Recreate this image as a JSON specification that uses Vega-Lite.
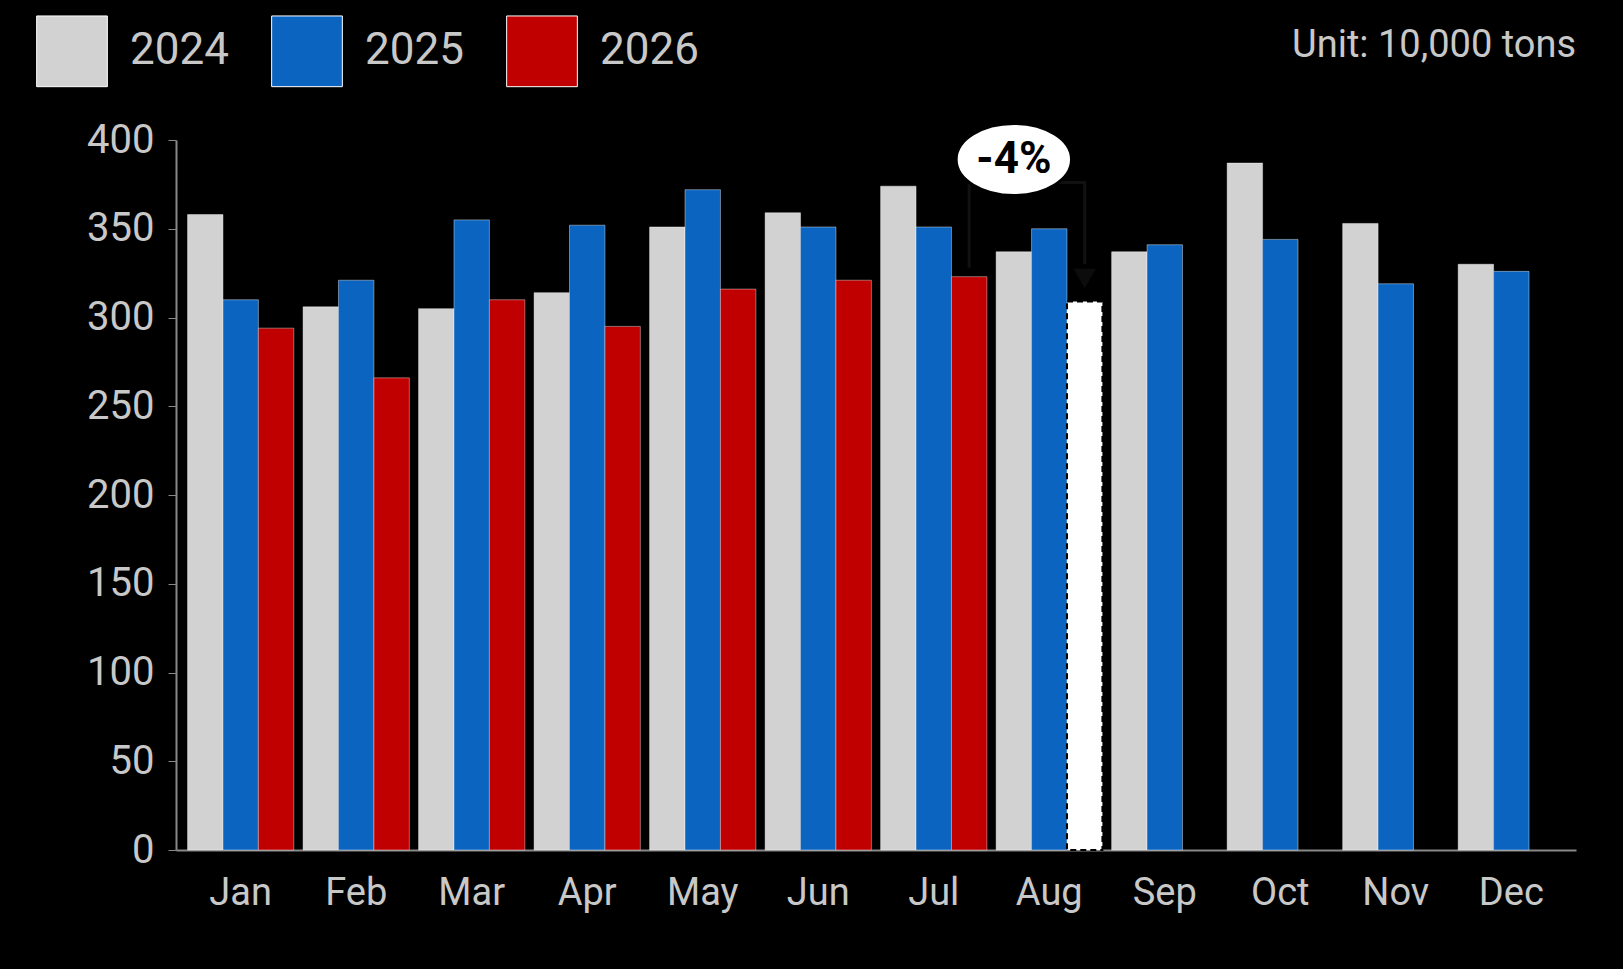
{
  "$schema": "https://vega.github.io/schema/vega-lite/v6.json",
  "autosize": "none",
  "width": 1400,
  "height": 710,
  "padding": {"left": 176, "top": 140, "right": 47, "bottom": 119},
  "background": "#000000",
  "title": {
    "text": "Unit: 10,000 tons",
    "anchor": "end",
    "orient": "top",
    "color": "#c8c8c8",
    "fontSize": 38,
    "font": "Roboto",
    "fontWeight": "normal",
    "offset": -50
  },
  "datasets": {
    "bars": [
      {"month": "Jan", "year": "2024", "value": 358}, {"month": "Jan", "year": "2025", "value": 310}, {"month": "Jan", "year": "2026", "value": 294},
      {"month": "Feb", "year": "2024", "value": 306}, {"month": "Feb", "year": "2025", "value": 321}, {"month": "Feb", "year": "2026", "value": 266},
      {"month": "Mar", "year": "2024", "value": 305}, {"month": "Mar", "year": "2025", "value": 355}, {"month": "Mar", "year": "2026", "value": 310},
      {"month": "Apr", "year": "2024", "value": 314}, {"month": "Apr", "year": "2025", "value": 352}, {"month": "Apr", "year": "2026", "value": 295},
      {"month": "May", "year": "2024", "value": 351}, {"month": "May", "year": "2025", "value": 372}, {"month": "May", "year": "2026", "value": 316},
      {"month": "Jun", "year": "2024", "value": 359}, {"month": "Jun", "year": "2025", "value": 351}, {"month": "Jun", "year": "2026", "value": 321},
      {"month": "Jul", "year": "2024", "value": 374}, {"month": "Jul", "year": "2025", "value": 351}, {"month": "Jul", "year": "2026", "value": 323},
      {"month": "Aug", "year": "2024", "value": 337}, {"month": "Aug", "year": "2025", "value": 350},
      {"month": "Sep", "year": "2024", "value": 337}, {"month": "Sep", "year": "2025", "value": 341},
      {"month": "Oct", "year": "2024", "value": 387}, {"month": "Oct", "year": "2025", "value": 344},
      {"month": "Nov", "year": "2024", "value": 353}, {"month": "Nov", "year": "2025", "value": 319},
      {"month": "Dec", "year": "2024", "value": 330}, {"month": "Dec", "year": "2025", "value": 326}
    ],
    "forecast": [{"month": "Aug", "year": "2026", "value": 309}],
    "bracket": [
      {"month": "Jul", "year": "2026", "value": 328, "order": 1},
      {"month": "Jul", "year": "2026", "value": 376, "order": 2},
      {"month": "Aug", "year": "2026", "value": 376, "order": 3},
      {"month": "Aug", "year": "2026", "value": 330, "order": 4}
    ],
    "label": [{"month": "Aug", "year": "2024", "value": 389, "text": "-4%"}],
    "arrow": [{"month": "Aug", "year": "2026", "value": 322}]
  },
  "encoding": {
    "x": {
      "field": "month", "type": "nominal", "sort": null,
      "scale": {"domain": ["Jan","Feb","Mar","Apr","May","Jun","Jul","Aug","Sep","Oct","Nov","Dec"], "paddingInner": 0.08, "paddingOuter": 0.1},
      "axis": {"title": null, "labelAngle": 0, "labelFontSize": 38, "labelColor": "#c8c8c8", "labelFont": "Roboto", "labelPadding": 24, "ticks": false, "domainColor": "#888888", "domainWidth": 2}
    },
    "xOffset": {"field": "year", "type": "nominal", "scale": {"domain": ["2024","2025","2026"]}},
    "y": {
      "field": "value", "type": "quantitative",
      "scale": {"domain": [0, 400]},
      "axis": {"title": null, "values": [0,50,100,150,200,250,300,350,400], "grid": false, "labelFontSize": 40, "labelColor": "#c8c8c8", "labelFont": "Roboto", "labelPadding": 14, "tickColor": "#888888", "tickSize": 8, "domainColor": "#888888", "domainWidth": 2}
    }
  },
  "layer": [
    {
      "data": {"name": "bars"},
      "mark": {"type": "bar", "stroke": "#ffffff", "strokeOpacity": 0.4, "strokeWidth": 1},
      "encoding": {
        "color": {
          "field": "year", "type": "nominal",
          "scale": {"domain": ["2024","2025","2026"], "range": ["#d2d2d2", "#0a64c0", "#c00000"]},
          "legend": {
            "title": null, "orient": "none", "legendX": -140, "legendY": -125, "direction": "horizontal",
            "symbolType": "square", "symbolSize": 5000, "symbolStrokeColor": "#ffffff", "symbolStrokeWidth": 1,
            "labelFontSize": 44, "labelColor": "#c8c8c8", "labelFont": "Roboto", "columnPadding": 40, "labelOffset": 22
          }
        }
      }
    },
    {
      "data": {"name": "forecast"},
      "mark": {"type": "bar", "fill": "#ffffff", "stroke": "#000000", "strokeWidth": 2, "strokeDash": [6, 4]}
    },
    {
      "data": {"name": "bracket"},
      "mark": {"type": "line", "color": "#111111", "strokeWidth": 3},
      "encoding": {"order": {"field": "order", "type": "quantitative"}}
    },
    {
      "data": {"name": "arrow"},
      "mark": {"type": "point", "shape": "triangle-down", "filled": true, "color": "#111111", "size": 500}
    },
    {
      "data": {"name": "label"},
      "mark": {"type": "point", "shape": "M-1.6,0A1.6,1 0 1,0 1.6,0A1.6,1 0 1,0 -1.6,0Z", "filled": true, "fill": "#ffffff", "stroke": "#000000", "strokeWidth": 3, "size": 5200, "opacity": 1}
    },
    {
      "data": {"name": "label"},
      "mark": {"type": "text", "fontSize": 44, "fontWeight": "bold", "font": "Roboto", "color": "#000000"},
      "encoding": {"text": {"field": "text"}}
    }
  ],
  "config": {"view": {"stroke": null}}
}
